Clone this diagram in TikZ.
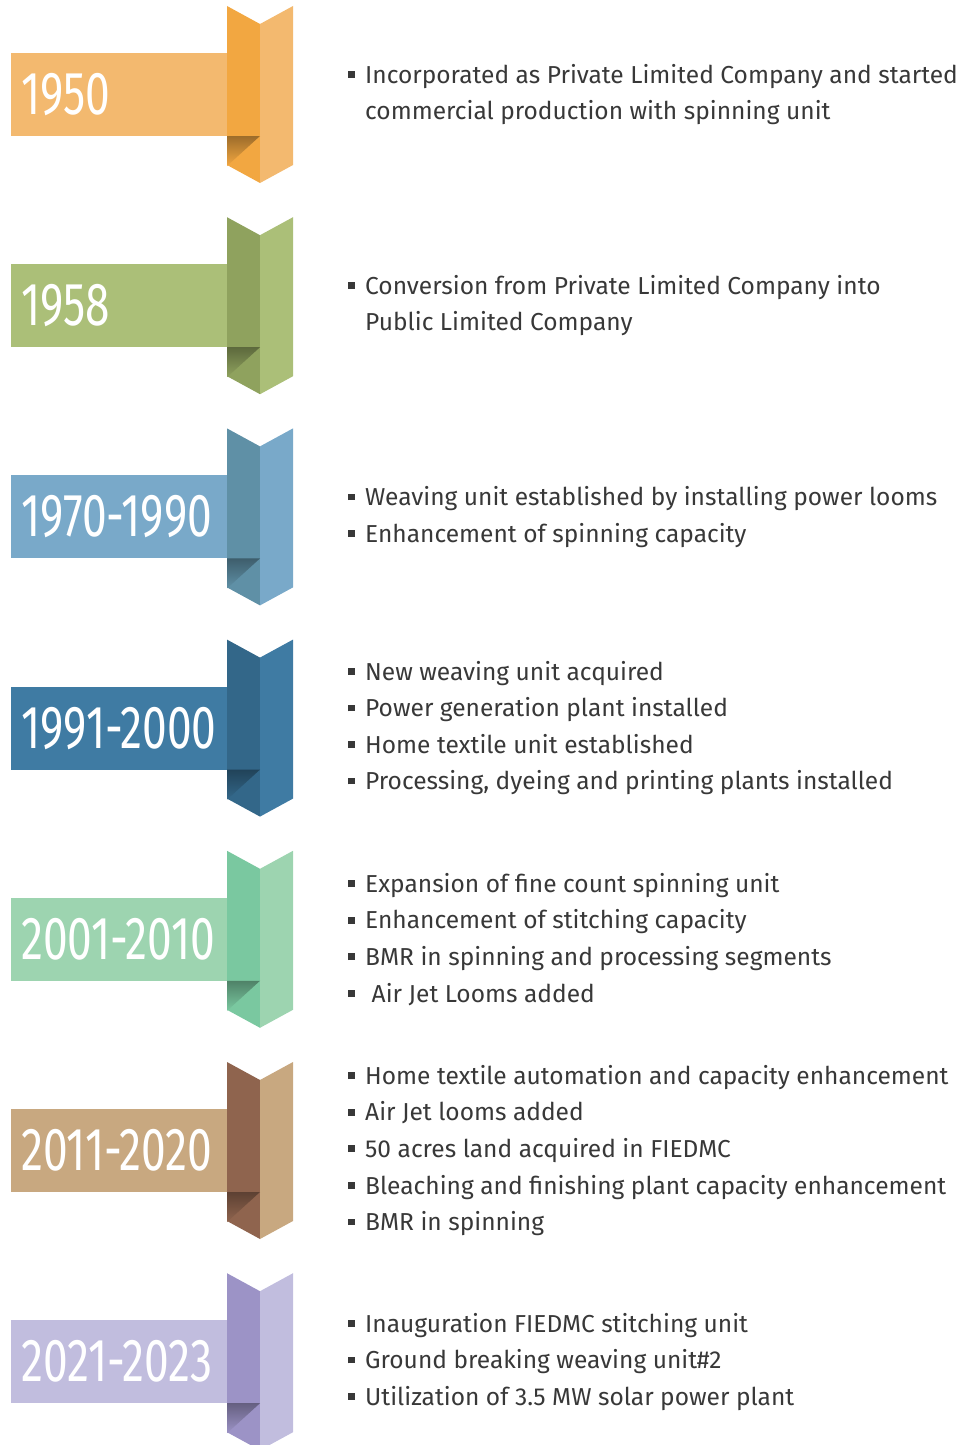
\documentclass[tikz,border=0pt]{standalone}
\usepackage{fontspec}
\setmainfont{Fira Sans}
\newfontfamily\yearfont[FakeStretch=0.73]{Fira Sans}

\definecolor{orL}{HTML}{F3B96F}
\definecolor{orD}{HTML}{F2A741}
\definecolor{grL}{HTML}{ABBF78}
\definecolor{grD}{HTML}{8FA25E}
\definecolor{skL}{HTML}{79A9C9}
\definecolor{skD}{HTML}{5F90A6}
\definecolor{blL}{HTML}{3F7BA3}
\definecolor{blD}{HTML}{336789}
\definecolor{mnL}{HTML}{9DD4B0}
\definecolor{mnD}{HTML}{7AC8A0}
\definecolor{brL}{HTML}{C8A880}
\definecolor{brD}{HTML}{8F644E}
\definecolor{lvL}{HTML}{C1BDDE}
\definecolor{lvD}{HTML}{9C93C6}
\definecolor{txtgray}{HTML}{383838}

\newcommand\bul{\rule[0.22em]{0.27em}{0.27em}\hspace{0.42em}}
\newcommand\nobul{\hspace{0.69em}}

\tikzset{
  yearlabel/.style={anchor=west, inner sep=0pt, text=white,
    font=\yearfont\fontsize{45.5}{46}\selectfont},
  events/.style={anchor=west, inner sep=0pt, align=left, text=txtgray,
    font=\fontsize{18.4}{27.4}\selectfont}
}

\begin{document}
\begin{tikzpicture}[x=0.75pt, y=-0.75pt]
  \useasboundingbox (0,0) rectangle (962,1445);
  \foreach \k/\yr/\lt/\dk/\txt [evaluate=\k as \oy using 211.2*\k] in {
    0/1950/orL/orD/{\bul Incorporated as Private Limited Company and started\\
      \nobul commercial production with spinning unit},
    1/1958/grL/grD/{\bul Conversion from Private Limited Company into\\
      \nobul Public Limited Company},
    2/1970-1990/skL/skD/{\bul Weaving unit established by installing power looms\\
      \bul Enhancement of spinning capacity},
    3/1991-2000/blL/blD/{\bul New weaving unit acquired\\
      \bul Power generation plant installed\\
      \bul Home textile unit established\\
      \bul Processing, dyeing and printing plants installed},
    4/2001-2010/mnL/mnD/{\bul Expansion of fine count spinning unit\\
      \bul Enhancement of stitching capacity\\
      \bul BMR in spinning and processing segments\\
      \bul\ Air Jet Looms added},
    5/2011-2020/brL/brD/{\bul Home textile automation and capacity enhancement\\
      \bul Air Jet looms added\\
      \bul 50 acres land acquired in FIEDMC\\
      \bul Bleaching and finishing plant capacity enhancement\\
      \bul BMR in spinning},
    6/2021-2023/lvL/lvD/{\bul Inauguration FIEDMC stitching unit\\
      \bul Ground breaking weaving unit\#2\\
      \bul Utilization of 3.5 MW solar power plant}} {
    \begin{scope}[shift={(0,\oy)}]
      % banner and folded ribbon
      \fill[\lt] (11,53) rectangle (228,136);
      \fill[\dk] (227,6) -- (260,24) -- (260,183) -- (227,165) -- cycle;
      \fill[\lt] (260,24) -- (293,6) -- (293,165) -- (260,183) -- cycle;
      \shade[top color=\dk!65!black, bottom color=\dk]
        (227,136) -- (260,136) -- (227,166) -- cycle;
      \node[yearlabel] (y\k) at (21,94.5) {\yr};
      \node[events] (t\k) at (348,94.5) {\txt};
    \end{scope}
  }
\end{tikzpicture}
\end{document}
